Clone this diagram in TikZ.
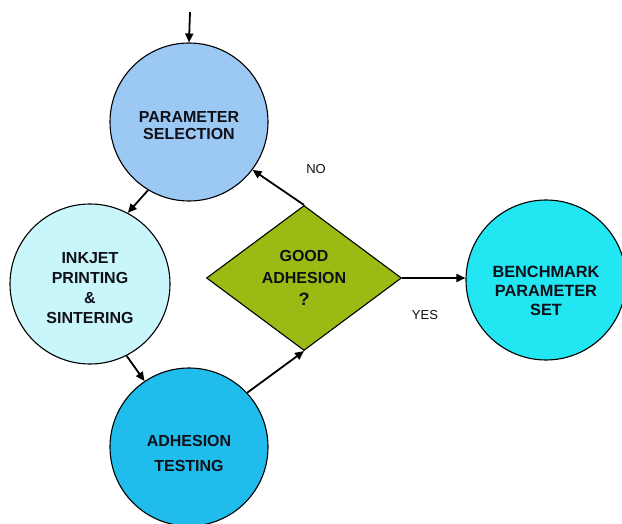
\documentclass[tikz,border=0pt]{standalone}
\usepackage{fontspec}
\setmainfont{Liberation Sans}
\usetikzlibrary{shapes.geometric,arrows.meta}
\definecolor{cparam}{HTML}{9CC8F4}
\definecolor{cink}{HTML}{C8F6FA}
\definecolor{ctest}{HTML}{20BCEC}
\definecolor{cbench}{HTML}{22E6F2}
\definecolor{cgreen}{HTML}{99BB14}
\definecolor{ctxt}{HTML}{101018}
\begin{document}
\begin{tikzpicture}[x=1pt,y=-1pt,
  stepcircle/.style={circle,draw=black,line width=1.1pt,minimum size=158pt,inner sep=0pt},
  decide/.style={diamond,draw=black,line width=1.1pt,fill=cgreen,minimum width=195pt,
    minimum height=145pt,inner sep=0pt,aspect=1.345},
  intext/.style={align=center,inner sep=0pt,text=ctxt},
  flow/.style={line width=1.8pt,-{Triangle[length=9pt,width=8pt]}},
  lbl/.style={font=\fontsize{13}{15}\selectfont,text=ctxt}]
\useasboundingbox (0,0) rectangle (622,524);
\fill[white] (0,0) rectangle (622,524);
\node[stepcircle,fill=cparam] (p) at (189,122) {};
\node[stepcircle,fill=cink,minimum size=160pt] (i) at (90,284) {};
\node[stepcircle,fill=ctest] (t) at (189,447) {};
\node[stepcircle,fill=cbench,minimum size=160pt] (b) at (546,280) {};
\node[decide] (d) at (304,278) {};
\node[intext,font=\fontsize{16}{17}\selectfont\bfseries] (pt) at ([yshift=-4pt]p.center) {PARAMETER\\SELECTION};
\node[intext,font=\fontsize{16}{20}\selectfont\bfseries] (it) at ([yshift=-4pt]i.center) {INKJET\\PRINTING\\\&\\SINTERING};
\node[intext,font=\fontsize{16}{25}\selectfont\bfseries] (tt) at ([yshift=-6pt]t.center) {ADHESION\\TESTING};
\node[intext,font=\fontsize{16.3}{19}\selectfont\bfseries] (bt) at ([yshift=-11pt]b.center) {BENCHMARK\\PARAMETER\\SET};
\node[intext,font=\fontsize{16}{22}\selectfont\bfseries] (dt) at ([yshift=0pt]d.center) {GOOD\\ADHESION\\{\fontsize{18}{22}\selectfont ?}};
\coordinate (start) at (190,12);
\draw[flow] (start) -- (p.north);
\draw[flow] (p.239) -- (i.62);
\draw[flow] (i.297) -- (t.124);
\draw[flow] (t.43) -- (d.south);
\draw[flow] (d.north) -- (p.-37);
\draw[flow] (d.east) -- (d.east -| b.west);
\node[lbl] (no) at (316,169) {NO};
\node[lbl] (yes) at (425,315) {YES};
\end{tikzpicture}
\end{document}
